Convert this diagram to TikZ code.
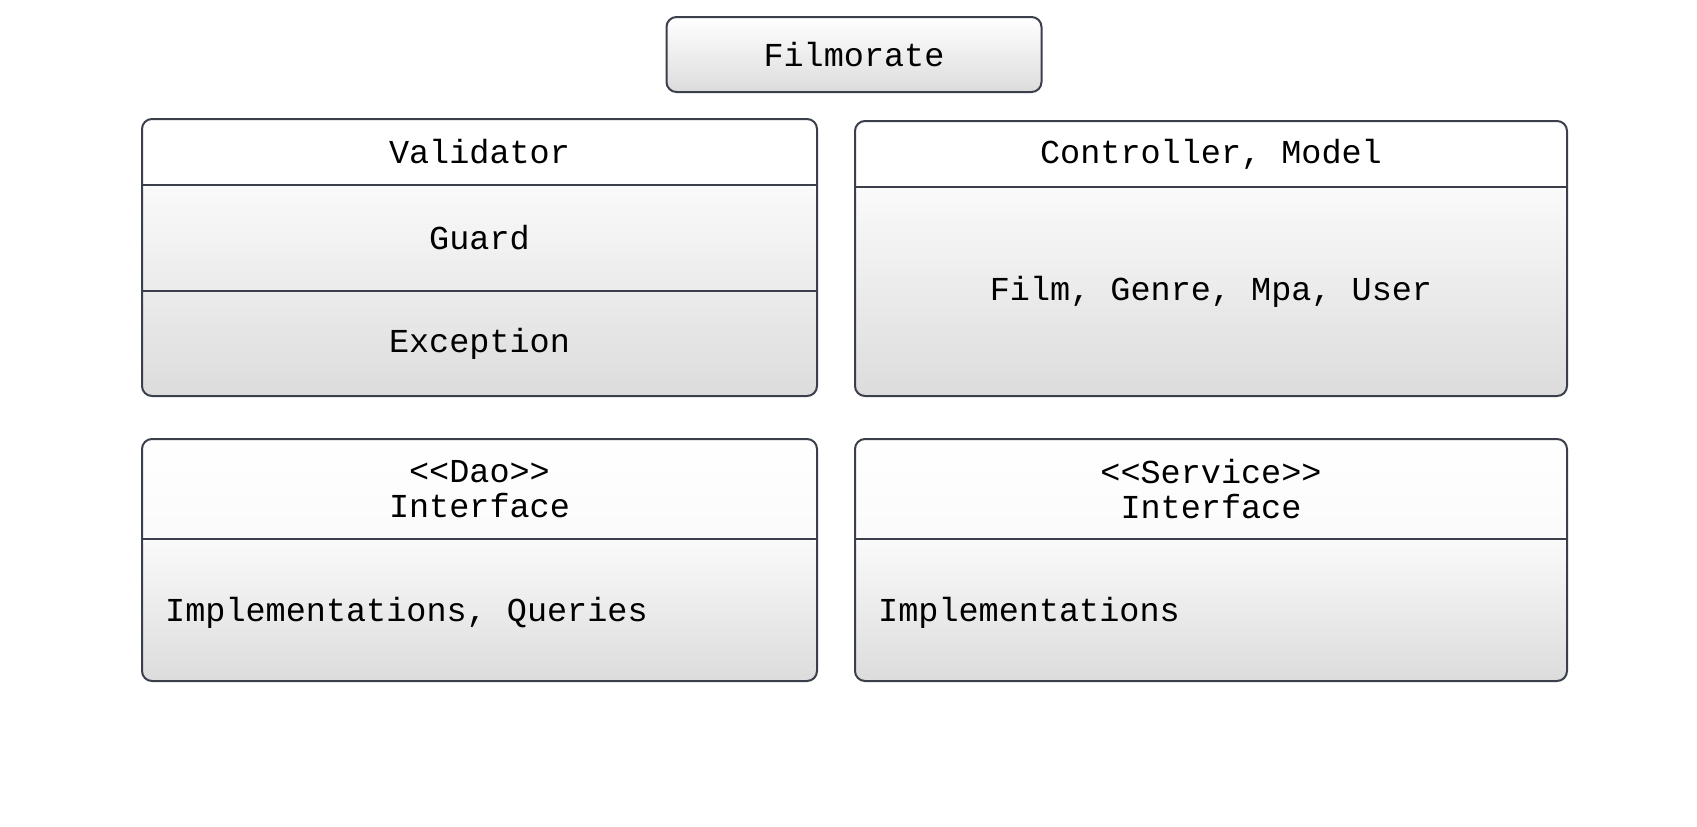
\documentclass[tikz,border=0pt]{standalone}
\usepackage{fontspec}
\newfontfamily\umlfont{Liberation Mono}
\usetikzlibrary{positioning, calc}
\definecolor{edgegray}{HTML}{3A3F4A}
\definecolor{shadehigh}{HTML}{FAFAFA}
\definecolor{shadelow}{HTML}{DCDCDC}
\definecolor{headlow}{HTML}{F4F4F4}

\begin{document}
\begin{tikzpicture}[x=1pt, y=-1pt,
  title/.style={rectangle, draw=edgegray, line width=2pt, rounded corners=10pt,
    minimum width=375pt, minimum height=75pt, top color=white, bottom color=shadelow,
    font=\umlfont\fontsize{33.5}{35}\selectfont},
  umlbox/.style n args={2}{rectangle, draw=edgegray, line width=2pt, rounded corners=10pt,
    inner sep=0pt, outer sep=0pt,
    path picture={
      \shade[top color=white, bottom color=#2] (path picture bounding box.north west)
        rectangle ([yshift=-#1pt]path picture bounding box.north east);
      \shade[top color=shadehigh, bottom color=shadelow] ([yshift=-#1pt]path picture bounding box.north west)
        rectangle (path picture bounding box.south east);
    }},
  part/.style={inner sep=0pt, align=center, font=\umlfont\fontsize{33.5}{35}\selectfont},
  line/.style={draw=edgegray, line width=2pt}
]
\useasboundingbox (0,0) rectangle (1697,827);

% Titel
\node (film) [title] at (854,54.5) {Filmorate};

% Validator
\node (valid) [umlbox={66}{white}, minimum width=675, minimum height=277] at (479.5,257.5) {};
\node (validhead) [part, minimum height=64, below=0pt of valid.north] {Validator};
\node (guard) [part, minimum height=107, below=0pt of validhead] {Guard};
\node (exc) [part, minimum height=106, below=0pt of guard] {Exception};
\draw [line] ([yshift=-66pt]valid.north west) -- ([yshift=-66pt]valid.north east);
\draw [line] (guard.south -| valid.west) -- (guard.south -| valid.east);

% Controller, Model
\node (ctrl) [umlbox={66}{white}, minimum width=712, minimum height=275] at (1211,258.5) {};
\node (ctrlhead) [part, minimum height=66, below=0pt of ctrl.north] {Controller, Model};
\node (model) [part, minimum height=209, below=0pt of ctrlhead] {Film, Genre, Mpa, User};
\draw [line] (ctrlhead.south -| ctrl.west) -- (ctrlhead.south -| ctrl.east);

% Dao
\node (dao) [umlbox={100}{headlow}, minimum width=675, minimum height=242] at (479.5,560) {};
\node (daohead) [part, minimum height=100, below=0pt of dao.north] {<<Dao>>\\Interface};
\draw [line] (daohead.south -| dao.west) -- (daohead.south -| dao.east);
\node (daoimpl) [part, anchor=west, xshift=23pt, yshift=-3pt] at ($(daohead.south -| dao.west)!0.5!(dao.south west)$)
  {Implementations, Queries};

% Service
\node (serv) [umlbox={100}{headlow}, minimum width=712, minimum height=242] at (1211,560) {};
\node (servhead) [part, minimum height=100, below=0pt of serv.north] {<<Service>>\\Interface};
\draw [line] (servhead.south -| serv.west) -- (servhead.south -| serv.east);
\node (servimpl) [part, anchor=west, xshift=23pt, yshift=-3pt] at ($(servhead.south -| serv.west)!0.5!(serv.south west)$)
  {Implementations};

\end{tikzpicture}
\end{document}
